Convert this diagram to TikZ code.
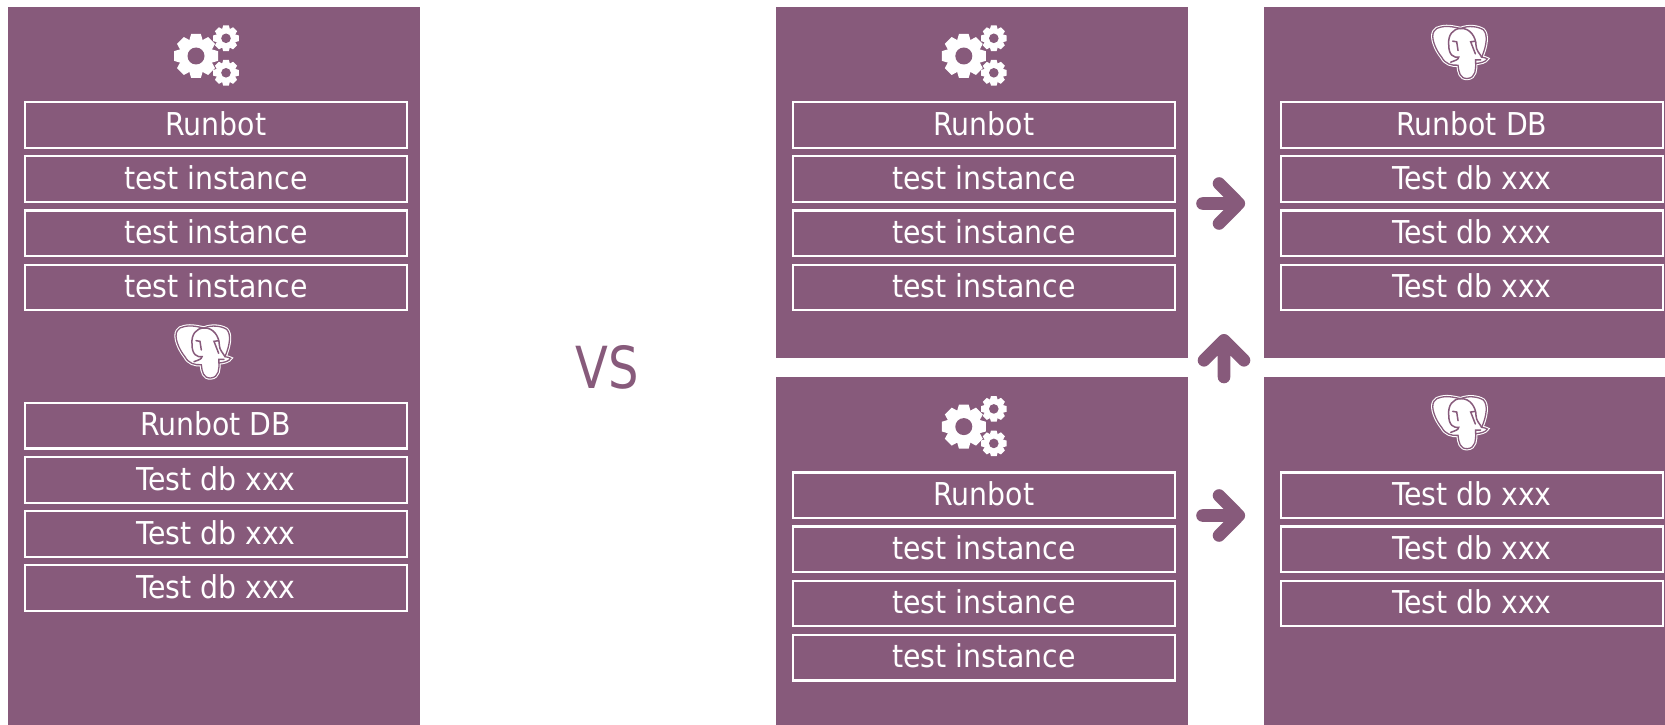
\documentclass[tikz,border=0pt]{standalone}
\usepackage{fontspec}
\setmainfont{DejaVu Sans Condensed}
\definecolor{odoo}{HTML}{875A7B}
\newcommand{\cogwheel}[5]{%
  \fill[white] (#1,#2) circle[radius=#4];
  \foreach \a in {0,45,...,315}{
    \fill[white,shift={(#1,#2)},rotate=\a]
      (-#3*.31,#4*.9) -- (-#3*.22,#3) -- (#3*.22,#3) -- (#3*.31,#4*.9) -- cycle;
  }
  \fill[odoo] (#1,#2) circle[radius=#5];
}
\tikzset{
  x=1pt,y=-1pt,
  panel/.style={fill=odoo,draw=none,inner sep=0pt,anchor=north west,outer sep=0pt},
  rowbox/.style={draw=white,line width=2.2pt,text=white,font=\fontsize{31.5}{31.5}\selectfont,
    minimum height=45.6pt,minimum width=381.5pt,inner sep=0pt,text height=20.6pt,text depth=0pt,anchor=north west},
  chev/.style={draw=odoo,line width=12.6pt,line join=round,line cap=round},
  gearicon/.pic={
    \cogwheel{196}{56}{22}{17}{8.5}
    \cogwheel{226}{38.3}{12.8}{9.8}{4.8}
    \cogwheel{226}{72.8}{12.8}{9.8}{4.8}
  },
  elephanticon/.pic={
    \begin{scope}[shift={(120,300)},scale=.3333]
      \def\elephantoutline{(192,80) .. controls (215,74) and (240,82) .. (252,84)
        .. controls (275,74) and (305,78) .. (320,88)
        .. controls (334,102) and (330,135) .. (315,170)
        .. controls (322,172) and (330,172) .. (332,175)
        .. controls (328,184) and (310,188) .. (297,189)
        .. controls (297,205) and (298,232) .. (272,234)
        .. controls (250,235) and (246,215) .. (244,194)
        .. controls (225,196) and (205,190) .. (195,170)
        .. controls (178,150) and (160,110) .. (172,92)
        .. controls (176,84) and (184,82) .. (192,80) -- cycle}
      \path[fill=white,draw=white,line width=3.4pt] \elephantoutline;
      \draw[odoo,line width=1.3pt] \elephantoutline;
      \draw[odoo,line width=1.5pt,line cap=round]
        (222,185) .. controls (235,180) and (245,178) .. (246,170)
        .. controls (232,172) and (215,165) .. (216,130)
        .. controls (214,105) and (228,84) .. (252,84)
        .. controls (280,82) and (298,110) .. (298,135)
        .. controls (298,150) and (310,160) .. (315,170);
      \draw[odoo,line width=1.5pt,line cap=round]
        (228,122) -- (240,124) -- (244,150)
        (296,122) -- (282,124) -- (296,160)
        (297,189) -- (297,178) -- (312,178);
    \end{scope}
  },
}
\begin{document}
\begin{tikzpicture}
\useasboundingbox (0,0) rectangle (1665,725);
% panels
\node[panel,minimum width=412pt,minimum height=718pt] (pL) at (8,7) {};
\node[panel,minimum width=412pt,minimum height=351pt] (pA) at (776,7) {};
\node[panel,minimum width=412pt,minimum height=348.5pt] (pB) at (776,376.5) {};
\node[panel,minimum width=401pt,minimum height=351pt] (pC) at (1264,7) {};
\node[panel,minimum width=401pt,minimum height=348.5pt] (pD) at (1264,376.5) {};
% icons
\pic at (0,0) {gearicon};
\pic at (767.8,0) {gearicon};
\pic at (767.8,370.6) {gearicon};
\pic at (0,0) {elephanticon};
\pic at (1256.7,-299.5) {elephanticon};
\pic at (1256.7,70.7) {elephanticon};
% left column
\node[rowbox] (l1) at (24,101) {Runbot};
\node[rowbox] (l2) at (24,155.2) {test instance};
\node[rowbox] (l3) at (24,209.3) {test instance};
\node[rowbox] (l4) at (24,263.5) {test instance};
\node[rowbox] (l5) at (24,401.7) {Runbot DB};
\node[rowbox] (l6) at (24,455.9) {Test db xxx};
\node[rowbox] (l7) at (24,510) {Test db xxx};
\node[rowbox] (l8) at (24,564.2) {Test db xxx};
% middle top
\node[rowbox] (a1) at (792,101) {Runbot};
\node[rowbox] (a2) at (792,155.2) {test instance};
\node[rowbox] (a3) at (792,209.3) {test instance};
\node[rowbox] (a4) at (792,263.5) {test instance};
% middle bottom
\node[rowbox] (b1) at (792,471.3) {Runbot};
\node[rowbox] (b2) at (792,525.4) {test instance};
\node[rowbox] (b3) at (792,579.5) {test instance};
\node[rowbox] (b4) at (792,633.7) {test instance};
% right top
\node[rowbox] (c1) at (1280,101) {Runbot DB};
\node[rowbox] (c2) at (1280,155.2) {Test db xxx};
\node[rowbox] (c3) at (1280,209.3) {Test db xxx};
\node[rowbox] (c4) at (1280,263.5) {Test db xxx};
% right bottom
\node[rowbox] (d1) at (1280,471.3) {Test db xxx};
\node[rowbox] (d2) at (1280,525.4) {Test db xxx};
\node[rowbox] (d3) at (1280,579.5) {Test db xxx};
% VS
\node[text=odoo,font=\fontsize{58}{58}\selectfont,inner sep=0pt,xscale=.92,transform shape] (vs) at (607.5,367) {VS};
% arrows
\coordinate (s1) at (1202.5,203.5); \coordinate (t1) at (1238.8,203.5);
\draw[chev] (s1) -- (t1) (1219,183.5) -- (t1) -- (1219,223.5);
\coordinate (s2) at (1224,377); \coordinate (t2) at (1224,340.3);
\draw[chev] (s2) -- (t2) (1204,360.3) -- (t2) -- (1244,360.3);
\coordinate (s3) at (1202.5,515.5); \coordinate (t3) at (1238.8,515.5);
\draw[chev] (s3) -- (t3) (1219,495.5) -- (t3) -- (1219,535.5);
\end{tikzpicture}
\end{document}
